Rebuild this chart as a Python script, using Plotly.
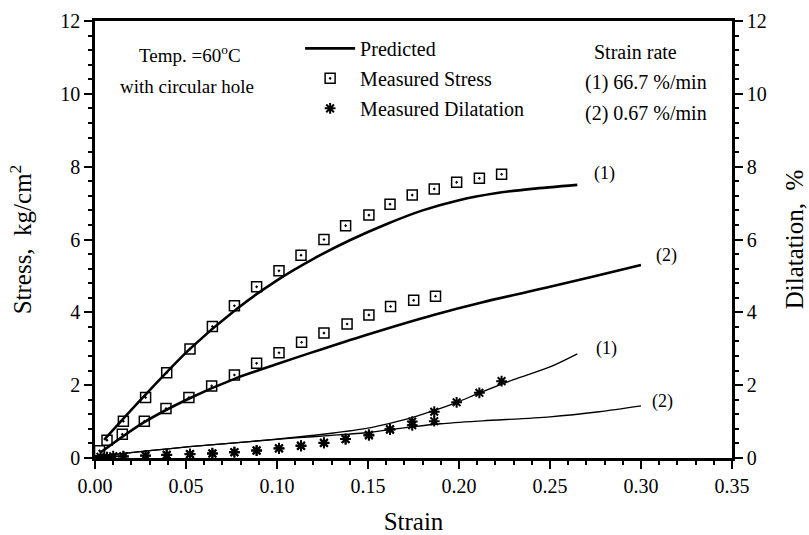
import plotly.graph_objects as go

# ---- measured stress (kg/cm^2) vs strain ----
stress1_strain = [0.0066, 0.0156, 0.0278, 0.0394, 0.0522, 0.0645, 0.0766, 0.0888, 0.1011,
                  0.1132, 0.1258, 0.1377, 0.1505, 0.1621, 0.1743, 0.1864, 0.1987, 0.2112, 0.2234]
stress1_meas = [0.49, 1.01, 1.66, 2.34, 2.99, 3.61, 4.18, 4.70, 5.14,
                5.57, 6.00, 6.38, 6.67, 6.97, 7.22, 7.39, 7.57, 7.68, 7.79]

stress2_strain = [0.0025, 0.015, 0.0271, 0.039, 0.0516, 0.0641, 0.0766, 0.0888, 0.1011,
                  0.1135, 0.1258, 0.1385, 0.1505, 0.1624, 0.1751, 0.1871]
stress2_meas = [0.20, 0.65, 1.01, 1.36, 1.66, 1.98, 2.28, 2.60, 2.89,
                3.18, 3.43, 3.68, 3.93, 4.16, 4.33, 4.44]

# ---- predicted stress curves ----
pred1_strain = [0.005, 0.0266, 0.052, 0.078, 0.10, 0.12, 0.14, 0.16, 0.18, 0.20, 0.22, 0.24, 0.265]
pred1_stress = [0.50, 1.68, 2.99, 4.10, 4.88, 5.47, 5.98, 6.42, 6.80, 7.08, 7.27, 7.39, 7.50]

pred2_strain = [0.003, 0.0266, 0.052, 0.078, 0.10, 0.118, 0.149, 0.186, 0.213, 0.25, 0.275, 0.30]
pred2_stress = [0.15, 0.97, 1.64, 2.20, 2.58, 2.88, 3.38, 3.93, 4.28, 4.70, 5.00, 5.30]

# ---- measured dilatation (%) vs strain ----
dil1_strain = [0.0066, 0.0156, 0.0278, 0.0394, 0.0522, 0.0645, 0.0766, 0.0888, 0.1011, 0.1132,
               0.1258, 0.1377, 0.1505, 0.1621, 0.1743, 0.1864, 0.1987, 0.2112, 0.2234]
dil1_meas = [0.02, 0.04, 0.07, 0.09, 0.11, 0.13, 0.16, 0.20, 0.26, 0.33,
             0.42, 0.52, 0.64, 0.79, 1.00, 1.27, 1.53, 1.79, 2.11]

dil2_strain = [0.0030, 0.0100, 0.0156, 0.0278, 0.0394, 0.0522, 0.0645, 0.0766, 0.0888, 0.1011,
               0.1132, 0.1258, 0.1377, 0.1505, 0.1621, 0.1743, 0.1864]
dil2_meas = [0.03, 0.05, 0.05, 0.06, 0.08, 0.10, 0.12, 0.16, 0.21, 0.27,
             0.34, 0.41, 0.52, 0.62, 0.78, 0.90, 1.01]

# ---- predicted dilatation curves ----
pdil1_strain = [0.003, 0.03, 0.052, 0.085, 0.11, 0.13, 0.15, 0.162, 0.175, 0.186, 0.199, 0.211, 0.23, 0.25, 0.265]
pdil1_val = [0.06, 0.20, 0.31, 0.45, 0.57, 0.68, 0.82, 0.95, 1.12, 1.30, 1.53, 1.78, 2.15, 2.50, 2.86]

pdil2_strain = [0.003, 0.03, 0.052, 0.085, 0.11, 0.13, 0.15, 0.162, 0.175, 0.19, 0.213, 0.25, 0.277, 0.30]
pdil2_val = [0.06, 0.20, 0.31, 0.45, 0.55, 0.62, 0.70, 0.78, 0.86, 0.94, 1.02, 1.13, 1.27, 1.43]

FONT = "Liberation Serif"
BLACK = "black"

fig = go.Figure()

# predicted stress lines (thick)
fig.add_trace(go.Scatter(x=pred1_strain, y=pred1_stress, mode="lines", name="Predicted",
                         line=dict(color=BLACK, width=2.6, shape="spline", smoothing=0.8),
                         legendgroup="a", showlegend=True))
fig.add_trace(go.Scatter(x=pred2_strain, y=pred2_stress, mode="lines",
                         line=dict(color=BLACK, width=2.6, shape="spline", smoothing=0.8),
                         showlegend=False))

# predicted dilatation lines (thin)
fig.add_trace(go.Scatter(x=pdil1_strain, y=pdil1_val, mode="lines", yaxis="y2",
                         line=dict(color=BLACK, width=1.3, shape="spline", smoothing=0.8),
                         showlegend=False))
fig.add_trace(go.Scatter(x=pdil2_strain, y=pdil2_val, mode="lines", yaxis="y2",
                         line=dict(color=BLACK, width=1.3, shape="spline", smoothing=0.8),
                         showlegend=False))

# measured stress squares
sq = dict(symbol="square-open-dot", size=10, color=BLACK, line=dict(width=1.5, color=BLACK))
fig.add_trace(go.Scatter(x=stress1_strain, y=stress1_meas, mode="markers", name="Measured Stress",
                         marker=sq, legendgroup="b", showlegend=True))
fig.add_trace(go.Scatter(x=stress2_strain, y=stress2_meas, mode="markers",
                         marker=sq, showlegend=False))

# measured dilatation asterisks
ast = dict(symbol="asterisk-open", size=9, color=BLACK, line=dict(width=2, color=BLACK))
fig.add_trace(go.Scatter(x=dil1_strain, y=dil1_meas, mode="markers", yaxis="y2",
                         name="Measured Dilatation", marker=ast, legendgroup="c", showlegend=True))
fig.add_trace(go.Scatter(x=dil2_strain, y=dil2_meas, mode="markers", yaxis="y2",
                         marker=ast, showlegend=False))

tickfont = dict(family=FONT, size=20, color=BLACK)
titlefont = dict(family=FONT, size=25, color=BLACK)
minor_y = dict(dtick=0.4, ticks="outside", ticklen=4, tickwidth=1.5, tickcolor=BLACK)

fig.update_layout(
    width=809, height=535, autosize=False,
    margin=dict(l=95, r=77, t=21, b=77),
    paper_bgcolor="white", plot_bgcolor="white",
    font=dict(family=FONT, color=BLACK),
    xaxis=dict(range=[0, 0.35], dtick=0.05, tickformat=".2f", showgrid=False, zeroline=False,
               showline=True, linecolor=BLACK, linewidth=2.5, mirror=True, automargin=False,
               ticks="outside", ticklen=8, tickwidth=2, tickcolor=BLACK,
               minor=dict(dtick=0.01, ticks="outside", ticklen=4, tickwidth=1.5, tickcolor=BLACK),
               tickfont=tickfont, title=dict(text="Strain", font=titlefont, standoff=22)),
    yaxis=dict(range=[0, 12], dtick=2, showgrid=False, zeroline=False, automargin=False,
               showline=True, linecolor=BLACK, linewidth=2.5,
               ticks="outside", ticklen=8, tickwidth=2, tickcolor=BLACK,
               minor=minor_y, tickfont=tickfont,
               title=dict(text="Stress,  kg/cm<sup>2</sup>", font=titlefont, standoff=22)),
    yaxis2=dict(range=[0, 12], dtick=2, overlaying="y", side="right", showgrid=False,
                zeroline=False, showline=True, linecolor=BLACK, linewidth=2.5, automargin=False,
                ticks="outside", ticklen=8, tickwidth=2, tickcolor=BLACK,
                minor=minor_y, tickfont=tickfont,
                title=dict(text="Dilatation,  %", font=titlefont, standoff=20)),
    legend=dict(x=0.322, y=0.982, xanchor="left", yanchor="top", bgcolor="rgba(0,0,0,0)",
                font=dict(family=FONT, size=20, color=BLACK), tracegroupgap=1, itemwidth=50),
)

ann_font = dict(family=FONT, size=19, color=BLACK)
rate_font = dict(family=FONT, size=20, color=BLACK)
lab_font = dict(family=FONT, size=18, color=BLACK)
texts = [
    (0.0522, 11.1, "Temp. =60<sup>o</sup>C", ann_font),
    (0.0505, 10.2, "with circular hole", ann_font),
    (0.297, 11.15, "Strain rate", rate_font),
    (0.303, 10.30, "(1) 66.7 %/min", rate_font),
    (0.303, 9.47, "(2) 0.67 %/min", rate_font),
    (0.280, 7.80, "(1)", lab_font),
    (0.314, 5.55, "(2)", lab_font),
    (0.281, 3.00, "(1)", lab_font),
    (0.312, 1.54, "(2)", lab_font),
]
for x, y, t, f in texts:
    fig.add_annotation(x=x, y=y, xref="x", yref="y", text=t, showarrow=False, font=f)

fig.write_html("out.html")
